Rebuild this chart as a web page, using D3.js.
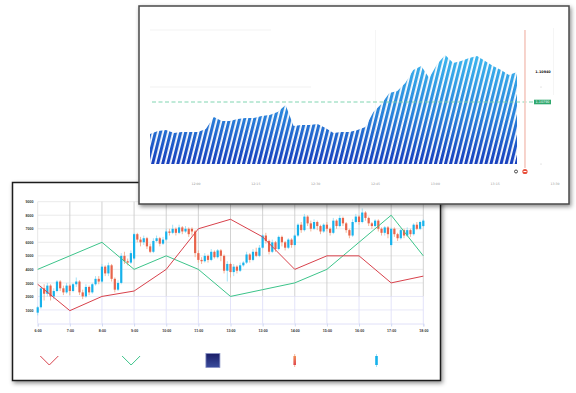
<!DOCTYPE html>
<html>
<head>
<meta charset="utf-8">
<script src="https://cdn.jsdelivr.net/npm/d3@7"></script>
<style>
  body { margin: 0; background: #fff; }
  svg { display: block; font-family: "DejaVu Sans", sans-serif; }
</style>
</head>
<body>
<svg id="chart" width="576" height="393"></svg>
<script>
// ---- front chart (candles + two lines) ----
const hourTicks = [6, 7, 8, 9, 10, 11, 12, 13, 14, 15, 16, 17, 18];
const hourLabels = ["6:00", "7:00", "8:00", "9:00", "10:00", "11:00", "13:00", "13:00", "14:00", "15:00", "16:00", "17:00", "18:00"];
const yTicks = [1000, 2000, 3000, 4000, 5000, 6000, 7000, 8000, 9000];
const redLine = [2900, 950, 2000, 2400, 4000, 7000, 7700, 6400, 4000, 5000, 5000, 3000, 3500];
const greenLine = [4000, 5000, 6000, 4000, 5000, 4000, 2000, 2500, 3000, 4000, 6000, 8000, 5000];

// one candle every 6 minutes from 6:00, [open, high, low, close]
const candles = [
  [800,1300,600,1200],[1200,2800,1100,2600],[2600,2900,1700,2200],[2200,3000,2000,2800],[2800,2900,1700,2000],
  [2000,2600,1800,2400],[2400,3200,2300,3100],[3100,3200,2400,2600],[2600,2800,2100,2300],[2300,3000,2200,2800],
  [2800,2900,2100,2400],[2400,3000,2300,2900],[2900,3400,2700,3100],[3100,3200,2100,2300],[2300,2500,1800,2000],
  [2000,2900,1900,2700],[2700,2800,2100,2300],[2300,3000,2200,2900],[2900,3500,2800,3300],[3300,3500,2900,3100],
  [3100,4400,3000,4200],[4200,4300,3500,3700],[3700,4500,3500,4300],[4300,4400,3100,3300],[3300,3400,2300,2500],
  [2500,3200,2400,3000],[3000,5200,2900,5000],[5000,5300,4400,4600],[4600,4800,4300,4500],[4500,5400,4400,5200],
  [4800,6700,4700,6600],[6600,6700,6000,6200],[6200,6400,5700,6000],[6000,6500,5800,6300],[6300,6400,5500,5700],
  [5700,5900,5200,5300],[5300,6300,5200,6100],[6100,6500,6000,6300],[6300,6400,5700,5900],[5900,6400,5800,6200],
  [6200,7000,6100,6800],[6800,7000,6500,6700],[6700,7300,6600,7000],[7000,7100,6500,6700],[6700,7300,6600,7100],
  [7100,7200,6600,6800],[6800,7200,6700,7000],[7000,7100,6400,6600],[7000,7100,6500,6800],[6800,6900,4900,5200],
  [5200,5400,4500,4700],[4700,4900,4400,4600],[4600,5200,4500,5000],[5000,5100,4500,4700],[4700,5500,4600,5300],
  [5300,5400,4800,4900],[4900,5500,4800,5400],[5400,5500,4600,5000],[5000,5100,3700,3900],[3900,4600,3100,4400],
  [4400,4500,3400,3800],[3800,4400,3500,4200],[4200,4300,3700,3900],[3900,4500,3800,4300],[4300,4600,4200,4500],
  [4500,5300,4400,5100],[5100,5200,4500,4700],[4700,5500,4600,5300],[5300,5600,4900,5000],[5000,5800,4900,5600],
  [5600,6600,5500,6500],[6500,6700,5900,6100],[6100,6200,5100,5300],[5300,6200,5200,6000],[6000,6100,5300,5500],
  [5500,6500,5400,6400],[6400,6500,5700,6000],[6000,6100,5400,5600],[5600,6300,5500,6200],[6200,6300,5600,5800],
  [5800,6600,5700,6500],[6500,7400,6400,7300],[7300,7500,6700,6900],[6900,8100,6800,7900],[7900,8000,7200,7400],
  [7400,7600,6800,7000],[7000,7700,6900,7500],[7500,7600,6900,7200],[7200,7300,6600,6800],[6800,7400,6700,7300],
  [7300,7500,6800,7000],[7000,7100,6500,6700],[6700,7800,6600,7600],[7600,7700,7000,7200],[7200,8000,7100,7800],
  [7800,7900,7200,7400],[7400,7500,6700,6900],[6900,7000,6300,6500],[6500,7700,6400,7500],[7500,8100,7400,7900],
  [7900,8000,7300,7500],[7500,8500,7400,8200],[8200,8300,7600,7800],[7800,7900,7200,7400],[7400,7500,7000,7200],
  [7200,7700,7100,7600],[7600,7700,6800,7000],[7000,7100,6500,6700],[6700,7200,6500,7100],[7100,7200,6300,6600],
  [5800,7100,5700,7000],[7000,7100,6400,6600],[6600,6700,6100,6300],[6300,7000,6200,6900],[6900,7000,6300,6500],
  [6500,7100,6400,6900],[6900,7000,6400,6600],[6600,7400,6500,7300],[7300,7500,6900,7000],[7000,7600,6900,7500],
  [7200,7700,7100,7600]
];
const legendItems = ["lineRed", "lineGreen", "area", "candleDown", "candleUp"];

// ---- back chart (striped area) ----
const backValues = [
  1.1063, 1.10645, 1.1065, 1.10635, 1.1064, 1.1064, 1.1064, 1.10655, 1.10715, 1.10695,
  1.10695, 1.10705, 1.1071, 1.1071, 1.1072, 1.10725, 1.1074, 1.10775, 1.1067, 1.10675,
  1.10675, 1.1068, 1.1066, 1.10635, 1.1064, 1.1064, 1.1065, 1.10665, 1.1074, 1.1078,
  1.10835, 1.10845, 1.10885, 1.1095, 1.1097, 1.1091, 1.1098, 1.11025, 1.10985, 1.10995,
  1.1101, 1.1102, 1.10995, 1.1097, 1.1095, 1.10925, 1.1094
];
const backLabels = ["12:00", "12:15", "12:30", "12:45", "13:00", "13:15", "13:30"];
const backBase = 1.1048;
const backPriceLevel = 1.1094;
const backDashLevel = 1.1079;
const backCursor = 47;

const svg = d3.select("#chart");
const defs = svg.append("defs");

let shadow = defs.append("filter").attr("id", "shadow")
  .attr("x", "-5%").attr("y", "-5%").attr("width", "112%").attr("height", "115%");
shadow.append("feDropShadow").attr("dx", 1.5).attr("dy", 2).attr("stdDeviation", 2)
  .attr("flood-color", "#000").attr("flood-opacity", 0.45);

// ================= front panel =================
const front = svg.append("g");
front.append("rect")
  .attr("x", 12.5).attr("y", 182.5).attr("width", 428).attr("height", 198)
  .attr("fill", "#fff").attr("stroke", "#1d1d1d").attr("stroke-width", 1.5)
  .attr("filter", "url(#shadow)");

let x = d3.scaleLinear().domain([6, 18]).range([37.7, 423.3]);
let y = d3.scaleLinear().domain([0, 9000]).range([323.5, 201.7]);

// grid
front.selectAll(".hgrid").data(yTicks).join("line")
  .attr("x1", x(6)).attr("x2", x(18))
  .attr("y1", d => y(d)).attr("y2", d => y(d))
  .attr("stroke", d => d <= 2000 ? "#e2e2f6" : "#e4e4e4").attr("stroke-width", 0.8);
front.selectAll(".vgrid").data(hourTicks).join("line")
  .attr("x1", d => x(d)).attr("x2", d => x(d))
  .attr("y1", y(9000)).attr("y2", y(2000))
  .attr("stroke", (d, i) => i == 0 ? "#e4e4e4" : "#cdcdcd").attr("stroke-width", 0.9);
front.selectAll(".vgrid2").data(hourTicks).join("line")
  .attr("x1", d => x(d)).attr("x2", d => x(d))
  .attr("y1", y(2000)).attr("y2", y(0))
  .attr("stroke", "#e0e0f8").attr("stroke-width", 0.9);

// axes
let yAxis = front.append("g").attr("transform", "translate(35,0)")
  .call(d3.axisLeft(y).tickValues(yTicks).tickFormat(d3.format("d")).tickSize(0).tickPadding(1.5));
yAxis.select(".domain").remove();
yAxis.selectAll("text").attr("font-size", 3.6).attr("fill", "#333").attr("font-weight", "bold");

let xAxis = front.append("g").attr("transform", "translate(0," + y(0) + ")")
  .call(d3.axisBottom(x).tickValues(hourTicks).tickFormat((d, i) => hourLabels[i]).tickSize(3).tickPadding(2.6));
xAxis.select(".domain").attr("stroke", "#e0e0f8");
xAxis.selectAll("line").attr("stroke", "#cfd8f2");
xAxis.selectAll("text").attr("font-size", 3.6).attr("fill", "#333").attr("font-weight", "bold");

// candles
const upColor = "#17b2eb", downColor = "#e8644b";
let cg = front.append("g");
cg.selectAll(".wick").data(candles).join("line")
  .attr("x1", (d, i) => x(6 + i / 10)).attr("x2", (d, i) => x(6 + i / 10))
  .attr("y1", d => y(d[1])).attr("y2", d => y(d[2]))
  .attr("stroke", d => d[3] >= d[0] ? "#8fdaf5" : "#f2a37f").attr("stroke-width", 0.8);
cg.selectAll(".body").data(candles).join("rect")
  .attr("x", (d, i) => x(6 + i / 10) - 1.1).attr("width", 2.2)
  .attr("y", d => y(Math.max(d[0], d[3])))
  .attr("height", d => Math.max(0.8, Math.abs(y(d[0]) - y(d[3]))))
  .attr("fill", d => d[3] >= d[0] ? upColor : downColor);

// lines
let line = d3.line().x((d, i) => x(hourTicks[i])).y(d => y(d));
front.append("path").datum(greenLine).attr("d", line)
  .attr("fill", "none").attr("stroke", "#3cc48a").attr("stroke-width", 1);
front.append("path").datum(redLine).attr("d", line)
  .attr("fill", "none").attr("stroke", "#d8414b").attr("stroke-width", 1);

// legend (symbols only)
let navyGrad = defs.append("linearGradient").attr("id", "navyGrad")
  .attr("x1", 0).attr("y1", 0).attr("x2", 0).attr("y2", 1);
navyGrad.append("stop").attr("offset", 0).attr("stop-color", "#1a1d68");
navyGrad.append("stop").attr("offset", 1).attr("stop-color", "#3a4c9c");
let orangeGrad = defs.append("linearGradient").attr("id", "orangeGrad")
  .attr("x1", 0).attr("y1", 0).attr("x2", 0).attr("y2", 1);
orangeGrad.append("stop").attr("offset", 0).attr("stop-color", "#f08e55");
orangeGrad.append("stop").attr("offset", 1).attr("stop-color", "#e0474f");

let lx = d3.scalePoint().domain(legendItems).range([49.3, 376.5]);
let ly = 360.5;
legendItems.forEach(item => {
  let cx = lx(item);
  if (item == "lineRed" || item == "lineGreen") {
    front.append("path")
      .attr("d", d3.line()([[cx - 9, ly - 4.5], [cx, ly + 4.5], [cx + 9, ly - 4.5]]))
      .attr("fill", "none").attr("stroke", item == "lineRed" ? "#d8414b" : "#3cc48a").attr("stroke-width", 1);
  } else if (item == "area") {
    front.append("rect").attr("x", cx - 7).attr("y", ly - 7).attr("width", 14).attr("height", 14)
      .attr("fill", "url(#navyGrad)").attr("stroke", "#8a93c6").attr("stroke-width", 0.8);
  } else {
    let up = item == "candleUp";
    front.append("line").attr("x1", cx).attr("x2", cx).attr("y1", ly - 6.5).attr("y2", ly + 6.5)
      .attr("stroke", up ? "#8fdaf5" : "#f2a37f").attr("stroke-width", 0.8);
    front.append("rect").attr("x", cx - 1.3).attr("y", ly - 4.5).attr("width", 2.6).attr("height", 9)
      .attr("fill", up ? upColor : "url(#orangeGrad)");
  }
});

// ================= back panel (drawn on top) =================
const back = svg.append("g");
back.append("rect")
  .attr("x", 139).attr("y", 6).attr("width", 430).attr("height", 198)
  .attr("fill", "#fff").attr("stroke", "#4a4a4a").attr("stroke-width", 1.5)
  .attr("filter", "url(#shadow)");

let xB = d3.scaleLinear().domain([0, backValues.length - 1]).range([150, 517]);
let yB = d3.scaleLinear().domain([backBase, 1.1115]).range([164, 30]);
let xBL = d3.scalePoint().domain(d3.range(backLabels.length)).range([196, 555]);

// faint grid
back.append("line").attr("x1", 150).attr("x2", 271).attr("y1", yB(1.1115)).attr("y2", yB(1.1115))
  .attr("stroke", "#f0f0f0").attr("stroke-width", 0.8);
back.append("line").attr("x1", 150).attr("x2", 311).attr("y1", yB(1.10865)).attr("y2", yB(1.10865))
  .attr("stroke", "#ededed").attr("stroke-width", 0.8);
back.append("line").attr("x1", xBL(3)).attr("x2", xBL(3)).attr("y1", 30).attr("y2", 164)
  .attr("stroke", "#f2f2f2").attr("stroke-width", 0.8);
back.append("line").attr("x1", xBL(6) - 1.5).attr("x2", xBL(6) - 1.5).attr("y1", 28).attr("y2", 95)
  .attr("stroke", "#f2f2f2").attr("stroke-width", 0.8);

// stripes: gradient area masked by slanted stripes
let blueGrad = defs.append("linearGradient").attr("id", "blueGrad")
  .attr("gradientUnits", "userSpaceOnUse")
  .attr("x1", 0).attr("y1", yB(backBase)).attr("x2", 0).attr("y2", yB(1.1102));
blueGrad.append("stop").attr("offset", 0).attr("stop-color", "#1840bd");
blueGrad.append("stop").attr("offset", 0.45).attr("stop-color", "#2a82da");
blueGrad.append("stop").attr("offset", 1).attr("stop-color", "#3cb6ee");

let stripes = defs.append("pattern").attr("id", "stripes")
  .attr("patternUnits", "userSpaceOnUse").attr("width", 4.9).attr("height", 10)
  .attr("patternTransform", "rotate(14)");
stripes.append("rect").attr("x", 0).attr("y", 0).attr("width", 3.1).attr("height", 10).attr("fill", "#fff");
let mask = defs.append("mask").attr("id", "stripeMask")
  .attr("maskUnits", "userSpaceOnUse").attr("x", 0).attr("y", 0).attr("width", 576).attr("height", 393);
mask.append("rect").attr("x", 0).attr("y", 0).attr("width", 576).attr("height", 393).attr("fill", "url(#stripes)");

let area = d3.area().x((d, i) => xB(i)).y0(yB(backBase)).y1(d => yB(d));
back.append("path").datum(backValues).attr("d", area)
  .attr("fill", "url(#blueGrad)").attr("mask", "url(#stripeMask)");

// dashed level + label
let dashY = yB(backDashLevel);
back.append("line").attr("x1", 152).attr("x2", 534).attr("y1", dashY).attr("y2", dashY)
  .attr("stroke", "#72d0a8").attr("stroke-width", 0.9).attr("stroke-dasharray", "4,2.5");
back.append("rect").attr("x", 534).attr("y", dashY - 2.3).attr("width", 17).attr("height", 4.6)
  .attr("fill", "#2fa86e");
back.append("text").attr("x", 542.5).attr("y", dashY).attr("dy", "0.35em")
  .attr("text-anchor", "middle").attr("font-size", 3.4).attr("fill", "#fff")
  .text(backDashLevel.toFixed(5));
back.append("text").attr("x", 543).attr("y", yB(backPriceLevel)).attr("dy", "0.35em")
  .attr("text-anchor", "middle").attr("font-size", 3.4).attr("fill", "#111").attr("font-weight", "bold")
  .text(backPriceLevel.toFixed(5));
back.selectAll(".ytick").data([1.10865, backBase]).join("circle")
  .attr("cx", 541).attr("cy", d => yB(d)).attr("r", 0.5).attr("fill", "#bbb");

// cursor line + markers
let cx = xB(backCursor);
back.append("line").attr("x1", cx).attr("x2", cx).attr("y1", 30).attr("y2", 168)
  .attr("stroke", "#f6cfc7").attr("stroke-width", 1.8);
back.append("circle").attr("cx", cx).attr("cy", 171.5).attr("r", 2.6).attr("fill", "#e8503c");
back.append("rect").attr("x", cx - 1.5).attr("y", 171).attr("width", 3).attr("height", 1).attr("fill", "#fff");
back.append("circle").attr("cx", xB(backValues.length - 1) - 1).attr("cy", 171.5).attr("r", 1.5)
  .attr("fill", "#fff").attr("stroke", "#222").attr("stroke-width", 0.8);

// back x labels
back.selectAll(".bl").data(backLabels).join("text")
  .attr("x", (d, i) => xBL(i)).attr("y", 183.5).attr("dy", "0.35em")
  .attr("text-anchor", "middle").attr("font-size", 3.2).attr("fill", "#999")
  .text(d => d);
</script>
</body>
</html>
